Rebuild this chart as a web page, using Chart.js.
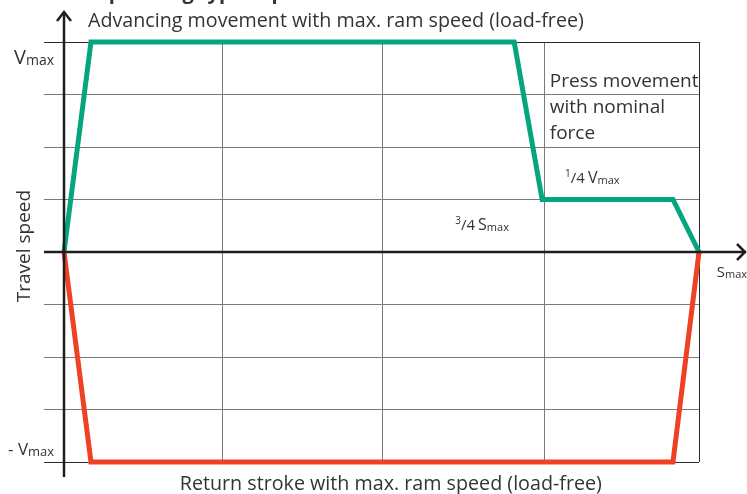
<!DOCTYPE html>
<html>
<head>
<meta charset="utf-8">
<script src="https://cdn.jsdelivr.net/npm/chart.js@4.4.1/dist/chart.umd.min.js"></script>
<style>
  html, body { margin: 0; padding: 0; background: #fff; }
</style>
</head>
<body>
<canvas id="chart" width="747" height="494"></canvas>
<script>
// stroke in % of s_max, speed in quarters of v_max
const advanceStroke = [0, 4.25, 70.9, 75.3, 95.9, 100];
const advanceSpeed = [0, 4, 4, 1, 1, 0];
const returnStroke = [0, 4.25, 95.9, 100];
const returnSpeed = [0, -4, -4, 0];
const strokeGrid = [0, 25, 50.2, 75.7, 100];
const speedMin = -4;
const speedMax = 4;

const GREEN = '#05a57e';
const RED = '#ef4125';
const INK = '#333333';
const FONT = '"Open Sans", "Noto Sans", sans-serif';

function points(xs, ys) {
  return xs.map((x, i) => ({ x, y: ys[i] }));
}

// runs: [text, size, dy, bold]
function drawRuns(ctx, x, y, runs, align) {
  let width = 0;
  runs.forEach(([t, size, , bold]) => {
    ctx.font = `${bold ? 'bold ' : ''}${size}px ${FONT}`;
    width += ctx.measureText(t).width;
  });
  let cx = align === 'right' ? x - width : x;
  runs.forEach(([t, size, dy, bold]) => {
    ctx.font = `${bold ? 'bold ' : ''}${size}px ${FONT}`;
    ctx.fillText(t, cx, y + (dy || 0));
    cx += ctx.measureText(t).width;
  });
}

// label anchors in data units (stroke %, speed)
const labels = [
  { x: -10.1, y: 4.81, runs: [['Standard operating typical profile', 20, 0, true]] },
  { x: 3.78, y: 4.286, runs: [['Advancing movement with max. ram speed (load-free)', 19.7]] },
  { x: 84.7, y: -4.533, align: 'right', runs: [['Return stroke with max. ram speed (load-free)', 19.7]] },
  { x: -7.87, y: 3.58, runs: [['V', 20], ['max', 14, 1]] },
  { x: -8.82, y: -3.867, runs: [['- V', 17], ['max', 13, 1]] },
  { x: 76.5, y: 3.143, runs: [['Press movement', 19]] },
  { x: 76.5, y: 2.648, runs: [['with nominal', 19]] },
  { x: 76.5, y: 2.152, runs: [['force', 19]] },
  { x: 78.9, y: 1.314, runs: [['1', 10, -6], ['/4', 15], [' ', 12], ['V', 16], ['max', 11, 1]] },
  { x: 61.6, y: 0.419, runs: [['3', 10, -6], ['/4', 15], [' ', 12], ['S', 16], ['max', 11, 1]] },
  { x: 102.8, y: -0.476, runs: [['S', 15], ['max', 11, 1]] },
];

const overlay = {
  id: 'overlay',
  afterDatasetsDraw(chart) {
    const { ctx, chartArea, scales: { x, y } } = chart;
    const x0 = x.getPixelForValue(0);
    const y0 = y.getPixelForValue(0);
    ctx.save();
    ctx.strokeStyle = '#1e1e1e';
    ctx.lineWidth = 2.5;
    ctx.lineCap = 'butt';
    ctx.beginPath();
    ctx.moveTo(x0, chartArea.top - 30);
    ctx.lineTo(x0, chartArea.bottom + 15);
    ctx.moveTo(y.left, y0);
    ctx.lineTo(chart.width - 1, y0);
    ctx.stroke();
    // arrow heads
    ctx.lineJoin = 'miter';
    ctx.beginPath();
    ctx.moveTo(x0 - 7, chartArea.top - 21);
    ctx.lineTo(x0, chartArea.top - 30);
    ctx.lineTo(x0 + 7, chartArea.top - 21);
    ctx.moveTo(chart.width - 10, y0 - 8);
    ctx.lineTo(chart.width - 2, y0);
    ctx.lineTo(chart.width - 10, y0 + 8);
    ctx.stroke();
    ctx.restore();
  },
  afterDraw(chart) {
    const { ctx, scales: { x, y } } = chart;
    ctx.save();
    ctx.fillStyle = INK;
    ctx.textBaseline = 'alphabetic';
    labels.forEach((l) => {
      drawRuns(ctx, x.getPixelForValue(l.x), y.getPixelForValue(l.y), l.runs, l.align);
    });
    // rotated axis title
    ctx.translate(x.getPixelForValue(-5.35), y.getPixelForValue(0.114));
    ctx.rotate(-Math.PI / 2);
    ctx.font = `19px ${FONT}`;
    ctx.textAlign = 'center';
    ctx.fillText('Travel speed', 0, 0);
    ctx.restore();
  },
};

function gridColor(edge) {
  return (c) => (edge.includes(c.tick.value) ? '#2a2a2a' : '#7a7a7a');
}

new Chart(document.getElementById('chart'), {
  type: 'scatter',
  data: {
    datasets: [
      {
        data: points(returnStroke, returnSpeed),
        showLine: true,
        borderColor: RED,
        backgroundColor: RED,
        borderWidth: 5,
        borderJoinStyle: 'miter',
        pointRadius: 0,
        clip: false,
      },
      {
        data: points(advanceStroke, advanceSpeed),
        showLine: true,
        borderColor: GREEN,
        backgroundColor: GREEN,
        borderWidth: 5,
        borderJoinStyle: 'miter',
        pointRadius: 0,
        clip: false,
      },
    ],
  },
  options: {
    responsive: false,
    animation: false,
    devicePixelRatio: 1,
    layout: { padding: { left: 44, right: 48, top: 42, bottom: 32 } },
    scales: {
      x: {
        type: 'linear',
        min: 0,
        max: 100,
        afterBuildTicks: (scale) => {
          scale.ticks = strokeGrid.map((value) => ({ value }));
        },
        ticks: { display: false },
        border: { display: false },
        grid: { color: gridColor([100]), lineWidth: 1, drawTicks: false },
      },
      y: {
        type: 'linear',
        min: speedMin,
        max: speedMax,
        ticks: { display: false, stepSize: 1 },
        border: { display: false },
        grid: { color: gridColor([speedMin, speedMax]), lineWidth: 1, drawTicks: true, tickLength: 20 },
      },
    },
    plugins: {
      legend: { display: false },
      tooltip: { enabled: false },
    },
  },
  plugins: [overlay],
});
</script>
</body>
</html>
